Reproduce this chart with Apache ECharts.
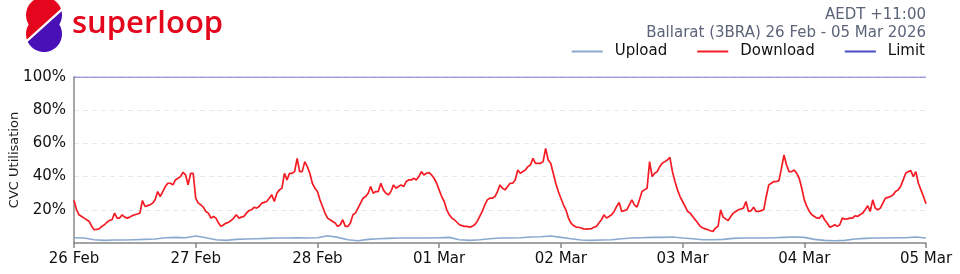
<!DOCTYPE html>
<html>
<head>
<meta charset="utf-8">
<script src="https://cdn.jsdelivr.net/npm/echarts@6/dist/echarts.min.js"></script>
<style>
html,body{margin:0;padding:0;background:#fff;}
#chart{width:960px;height:274px;}
</style>
</head>
<body>
<div id="chart"></div>
<script>
// x axis: hours since 26 Feb 00:00
const dayLabels = ['26 Feb','27 Feb','28 Feb','01 Mar','02 Mar','03 Mar','04 Mar','05 Mar'];
const yTickLabels = ['', '20%', '40%', '60%', '80%', '100%'];
const yAxisTitle = 'CVC Utilisation';
const downloadStepHours = 0.5;
const download = [
25.6,20, 17,16, 15,14, 13,10, 8,8.2, 8.6,10, 11,12.5, 13.6,14, 18,15, 15,17, 15.6,15, 15.6,16.5,
17,17.5, 18,25.6, 22,22.5, 23,24, 26,31, 28,31, 34,36, 36,35, 38,39, 40,42.6, 41,35, 42,42,
27,24, 23,21.6, 19,18, 15,16, 15,12, 10,11, 12,12.5, 13.6,15, 17,15, 15.6,16, 18,19.5, 20,21.5,
21,22, 24,24.5, 25,27, 29,25, 30,32, 33,42, 38,42, 42,43, 51,43, 43,49, 46,42, 36,33,
31,26, 22,18, 15,14, 13,12, 10,11, 14,10, 10,12, 17,18, 21,24, 27,28, 30,34, 30,31,
31,36, 32,30, 29,31, 35,33, 34,35, 34,37, 38,38, 39,38, 40,43, 41,42, 42.4,41, 39,36,
32,28, 25,20, 17,15, 14,12.5, 11,10.5, 10,10, 9.6,10, 11,13, 16,19, 23,26, 27,27, 28,31,
35,33, 32,34, 36,36, 38,44, 42,43, 44,46, 47,51, 48,48, 48,49, 57,50, 48,42, 36,31,
27,23, 20,15, 12,10.5, 9.6,9.5, 9,8.5, 8.4,8.5, 8.6,9.5, 10,12, 14,17, 15,16, 17,19, 22,24.4,
19,19.5, 20,23, 26,23, 21.6,26, 31,32, 33,49, 40,42, 43,46, 48,49, 50,51.6, 43,37, 32,28,
25,22, 19,18, 16,14, 12,10, 9,8.5, 8,7.4, 7,9, 10,20, 15.6,14.5, 13.6,16, 18,19, 20,20.5,
21,25, 19,19.5, 21.6,19, 19,19.5, 20,28, 35,36, 37,37, 37.6,45, 53,47, 43,43, 44,42, 39,33,
26,22, 19,17, 16,15, 15,17, 14,12, 9.6,10, 11,10, 11,15, 14.4,14.5, 15,15, 16.4,16, 17,18,
20,22.4, 19,26, 21,20, 21,24, 27,27.5, 28,29, 31,32, 34,38, 42,43, 43.6,40, 43,36, 32,28,
23.6
];
const uploadStepHours = 2;
const upload = [
3.2,3,2,1.6,1.8,1.8,2,2.2,2.4,3.2,3.4,3.2,
4.2,3.2,2,1.6,2.2,2.4,2.6,2.8,3,3,3.2,3,
3.2,4.4,3.4,2,1.4,2.2,2.6,2.8,3,3,3,3,
3.2,3.4,2,1.6,2,2.6,3,3,3.2,3.6,3.8,4.2,
3.4,2.6,1.8,1.6,1.8,2,2.6,3,3.2,3.4,3.4,3.6,
3,2.6,2,2,2.2,2.8,3,3,3,3.2,3.4,3.6,
3.4,2.2,1.6,1.4,1.6,2.4,2.8,3,3,3.2,3.2,3.6,
3
];
const limitValue = 100;
const totalHours = 168;

const dlData = download.map((v, i) => [i * downloadStepHours, v]);
const ulData = upload.map((v, i) => [i * uploadStepHours, v]);
const limData = [[0, limitValue], [totalHours, limitValue]];

// logo helper: points along a circular arc (degrees, screen coords)
function arc(cx, cy, r, a0, a1, n) {
  const pts = [];
  for (let i = 0; i <= n; i++) {
    const a = (a0 + (a1 - a0) * i / n) * Math.PI / 180;
    pts.push([cx + r * Math.cos(a), cy + r * Math.sin(a)]);
  }
  return pts;
}
const logoRed = arc(44, 15, 18, -19.97, -211.85, 40).concat(arc(44, 34, 18, 211.85, 162.44, 10));
const logoPurple = arc(44, 15, 18, -12.03, 31.85, 10).concat(arc(44, 34, 18, -31.85, 154.85, 40));

const FONT = 'DejaVu Sans';
const chart = echarts.init(document.getElementById('chart'), null, {renderer: 'canvas'});
chart.setOption({
  animation: false,
  backgroundColor: '#ffffff',
  textStyle: {fontFamily: FONT},
  grid: {left: 74, right: 34, top: 77, bottom: 31, containLabel: false, outerBoundsMode: 'none'},
  legend: {
    data: ['Upload', 'Download', 'Limit'],
    right: 30, top: 39,
    icon: 'rect', itemWidth: 31, itemHeight: 2, itemGap: 30,
    textStyle: {fontFamily: FONT, fontSize: 15, color: '#111', padding: [0, 0, 0, 7]}
  },
  xAxis: {
    type: 'value', min: 0, max: totalHours, interval: 24,
    axisLine: {show: true, lineStyle: {color: '#888', width: 1.5}},
    axisTick: {show: true, length: 5, lineStyle: {color: '#888', width: 1.5}},
    axisLabel: {fontFamily: FONT, fontSize: 15, color: '#111', margin: 9,
      showMinLabel: true, showMaxLabel: true,
      formatter: v => dayLabels[Math.round(v / 24)]},
    splitLine: {show: false}
  },
  yAxis: {
    type: 'value', min: 0, max: 100, interval: 20,
    axisLine: {show: true, lineStyle: {color: '#888', width: 1.5}},
    axisTick: {show: false},
    axisLabel: {fontFamily: FONT, fontSize: 15, color: '#111', margin: 8,
      formatter: v => yTickLabels[Math.round(v / 20)]},
    splitLine: {show: true, lineStyle: {color: '#e4e9f2', type: [5, 4], width: 1}}
  },
  series: [
    {name: 'Upload', type: 'line', data: ulData, showSymbol: false, symbol: 'none',
     lineStyle: {color: '#8aa9cf', width: 1.6}, itemStyle: {color: '#8aa9cf'}, z: 3},
    {name: 'Download', type: 'line', data: dlData, showSymbol: false, symbol: 'none',
     lineStyle: {color: '#f41c24', width: 1.7}, itemStyle: {color: '#f41c24'}, z: 4},
    {name: 'Limit', type: 'line', data: limData, showSymbol: false, symbol: 'none',
     lineStyle: {color: '#4a4ac4', width: 1}, itemStyle: {color: '#4a4ac4'}, z: 2}
  ],
  graphic: [
    {type: 'polygon', shape: {points: logoRed}, style: {fill: '#e3061c'}},
    {type: 'polygon', shape: {points: logoPurple}, style: {fill: '#4a10b8'}},
    {type: 'text', left: 72, top: 9, style: {text: 'superloop', font: '600 31px "Open Sans"', fill: '#e3061c'}},
    {type: 'text', right: 34, top: 8, style: {text: 'AEDT +11:00', font: '15px "DejaVu Sans"', fill: '#5b6478', align: 'right'}},
    {type: 'text', right: 34, top: 26, style: {text: 'Ballarat (3BRA) 26 Feb - 05 Mar 2026', font: '15px "DejaVu Sans"', fill: '#5b6478', align: 'right'}},
    {type: 'text', x: 15, y: 160, rotation: Math.PI / 2,
     style: {text: yAxisTitle, font: '13px "DejaVu Sans"', fill: '#222', align: 'center', verticalAlign: 'middle'}}
  ]
});
</script>
</body>
</html>
